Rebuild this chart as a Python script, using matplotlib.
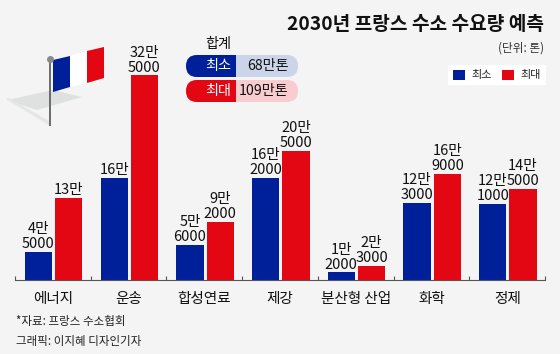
#!/usr/bin/env python3
"""
2030년 프랑스 수소 수요량 예측 막대그래프
"""

import numpy as np
import matplotlib
matplotlib.use('Agg')
import matplotlib.pyplot as plt
from matplotlib.patches import FancyBboxPatch, Polygon, Rectangle

plt.rcParams['font.family'] = ['Noto Sans CJK KR', 'DejaVu Sans']

categories = ['에너지', '운송', '합성연료', '제강', '분산형 산업', '화학', '정제']
min_values = [4.5, 16.2, 5.6, 16.2, 1.2, 12.3, 12.1]
max_values = [13.0, 32.5, 9.2, 20.5, 2.3, 16.9, 14.5]
min_labels = ['4만\n5000', '16만', '5만\n6000', '16만\n2000', '1만\n2000', '12만\n3000', '12만\n1000']
max_labels = ['13만', '32만\n5000', '9만\n2000', '20만\n5000', '2만\n3000', '16만\n9000', '14만\n5000']
series_names = ['최소', '최대']
total_values = ['68만톤', '109만톤']

BLUE = '#00209a'
RED = '#e30613'
BG = '#f4f4f4'
W, H = 560, 354

fig = plt.figure(figsize=(W / 100, H / 100), dpi=100, facecolor=BG)

# 막대 영역: 왼쪽 15px ~ 오른쪽 545px, 기준선 y=280px
ax = fig.add_axes([15 / W, (H - 280) / H, 530 / W, 280 / H], facecolor='none')
x = np.arange(len(categories))
b1 = ax.bar(x + 0.31, min_values, 0.36, color=BLUE, label=series_names[0])
b2 = ax.bar(x + 0.71, max_values, 0.36, color=RED, label=series_names[1])
ax.set_xlim(0, 7)
ax.set_ylim(0, 280 / 6.3)

for bars, labels in ((b1, min_labels), (b2, max_labels)):
    for rect, text in zip(bars, labels):
        ax.annotate(text, (rect.get_x() + rect.get_width() / 2, rect.get_height()),
                    xytext=(0, 0.5), textcoords='offset points', ha='center', va='bottom',
                    fontsize=10.5, linespacing=1.08, color='#111111')

for side in ('top', 'right', 'left'):
    ax.spines[side].set_visible(False)
ax.spines['bottom'].set_color('#555555')
ax.spines['bottom'].set_linewidth(0.8)
ax.set_yticks([])
ax.set_xticks(np.arange(8))
ax.set_xticklabels([])
ax.tick_params(axis='x', which='major', direction='in', length=3, color='#555555', width=0.8)
ax.set_xticks(x + 0.5, minor=True)
ax.set_xticklabels(categories, minor=True, fontsize=10.5, color='#111111')
ax.tick_params(axis='x', which='minor', length=0, pad=8.5)

ax.legend(loc='center', bbox_to_anchor=((497 - 15) / 530, (280 - 75) / 280),
          ncol=2, frameon=True, facecolor='white', edgecolor='none', framealpha=1,
          fancybox=False, fontsize=8, handlelength=1.1, handleheight=1.0,
          handletextpad=0.6, columnspacing=0.9, borderpad=0.45, borderaxespad=0,
          labelcolor='#222222')

# 장식 요소는 픽셀 좌표 오버레이에 그림
ov = fig.add_axes([0, 0, 1, 1], facecolor='none', zorder=5)
ov.set_xlim(0, W)
ov.set_ylim(H, 0)
ov.axis('off')

# 제목
ov.text(544, 24, '2030년 프랑스 수소 수요량 예측', ha='right', va='center',
        fontsize=13.8, fontweight='bold', color='#111111')
ov.text(544, 48, '(단위: 톤)', ha='right', va='center', fontsize=8.4, color='#333333')

# 합계 알약
ov.text(218, 44, '합계', ha='center', va='center', fontsize=10.2, color='#111111')
for y0, name, val, dark, light in ((55, series_names[0], total_values[0], BLUE, '#ccd4e9'),
                                   (80, series_names[1], total_values[1], RED, '#f9ccd0')):
    hgt = 22
    ov.add_patch(FancyBboxPatch((186, y0), 112, hgt,
                                boxstyle='round,pad=0,rounding_size=11', fc=light, ec='none'))
    ov.add_patch(FancyBboxPatch((186, y0), 60, hgt, boxstyle='round,pad=0,rounding_size=11',
                                fc=dark, ec='none'))
    ov.add_patch(Rectangle((225, y0), 11, hgt, fc=dark, ec='none'))
    ov.add_patch(Rectangle((236, y0), 14, hgt, fc=light, ec='none'))
    ov.text(218, y0 + hgt / 2, name, ha='center', va='center', fontsize=10.2, color='white')
    ov.text(289, y0 + hgt / 2, val, ha='right', va='center', fontsize=10.2, color='#111111')

# 깃발
ov.add_patch(Polygon([(7, 100), (53, 90), (82, 97), (37, 110)], fc='#dfe1e1', ec='none'))
ov.add_patch(Polygon([(6, 99), (9, 98), (51, 122), (50, 126)], fc='#e4e5e5', ec='none'))
ov.add_patch(Polygon([(53, 60), (70, 56), (70, 87), (53, 92)], fc=BLUE, ec='none'))
ov.add_patch(Polygon([(70, 56), (87, 51), (87, 83), (70, 87)], fc='white', ec='none'))
ov.add_patch(Polygon([(87, 51), (104, 47), (104, 78), (87, 83)], fc=RED, ec='none'))
ov.add_patch(Rectangle((48.7, 58), 2.4, 68, fc='#6e6e6e', ec='none'))
ov.scatter([50], [58.5], s=16, color='#8a8a8a', zorder=6)

# 출처
ov.text(16, 322, '*자료: 프랑스 수소협회', ha='left', va='center', fontsize=8.3, color='#222222')
ov.text(16, 342, '그래픽: 이지혜 디자인기자', ha='left', va='center', fontsize=8.3, color='#222222')

fig.savefig('out.png', dpi=100, facecolor=BG)
